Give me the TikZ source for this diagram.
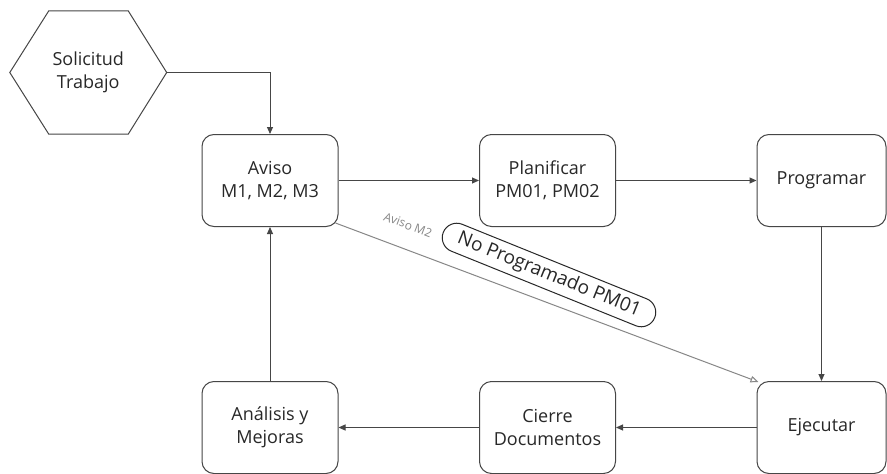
\documentclass[tikz,border=0pt]{standalone}
\usepackage{fontspec}
\setmainfont{Open Sans}
\usetikzlibrary{arrows.meta,calc}
\definecolor{edge}{RGB}{70,70,70}
\definecolor{ink}{RGB}{40,40,40}
\definecolor{faint}{RGB}{135,135,135}
\begin{document}
\begin{tikzpicture}[x=1pt,y=-1pt,
  stepbox/.style={draw=edge, line width=1pt, rounded corners=12pt,
    minimum width=136pt, minimum height=92pt, inner sep=0pt,
    align=center, text=ink, font=\fontsize{18}{23}\selectfont},
  flow/.style={draw=edge, line width=1pt, -{Triangle[length=7pt,width=6pt]}},
  branch/.style={draw=faint, line width=1pt, -{Triangle[open,length=8pt,width=6.5pt]}}
]
\path[use as bounding box, fill=white] (0,0) rectangle (887,474);

% start event
\node[minimum width=156.5pt, minimum height=123pt, inner sep=0pt,
  align=center, text=ink, font=\fontsize{18}{23}\selectfont] (sol) at (88.25,72.5) {Solicitud\\Trabajo};
\draw[edge, line width=1pt] (sol.west) -- ($(sol.north west)+(39,0)$)
  -- ($(sol.north east)+(-38.5,0)$) -- (sol.east)
  -- ($(sol.south east)+(-38.5,0)$) -- ($(sol.south west)+(39,0)$) -- cycle;

% process steps
\node[stepbox] (aviso) at (270,180.5) {Aviso\\M1, M2, M3};
\node[stepbox] (plan) at (547.5,180.5) {Planificar\\PM01, PM02};
\node[stepbox, minimum width=129pt] (prog) at (821.5,180.5) {Programar};
\node[stepbox, minimum width=129pt] (ejec) at (821.5,427.5) {Ejecutar};
\node[stepbox] (cierre) at (547.5,427.5) {Cierre\\Documentos};
\node[stepbox] (anal) at (270,427.5) {Análisis y\\Mejoras};

% main cycle
\draw[flow] (sol.east) -| (aviso.north);
\draw[flow] (aviso) -- (plan);
\draw[flow] (plan) -- (prog);
\draw[flow] (prog) -- (ejec);
\draw[flow] (ejec) -- (cierre);
\draw[flow] (cierre) -- (anal);
\draw[flow] (anal) -- (aviso);

% unplanned shortcut
\coordinate (d0) at ($(aviso.south east)+(-3,-4)$);
\coordinate (d1) at ($(ejec.north west)+(2,1)$);
\draw[branch] (d0) -- (d1);
\node[rotate=-21, text=faint, font=\fontsize{12}{14}\selectfont] (lblm2) at (408,225) {Aviso M2};
\node[draw=ink, line width=1pt, rounded corners=14.5pt, minimum width=228pt, minimum height=29pt,
  inner sep=0pt, rotate=-22, text=ink, font=\fontsize{19}{19}\selectfont] (nopm) at (549,275) {No Programado PM01};
\end{tikzpicture}
\end{document}
